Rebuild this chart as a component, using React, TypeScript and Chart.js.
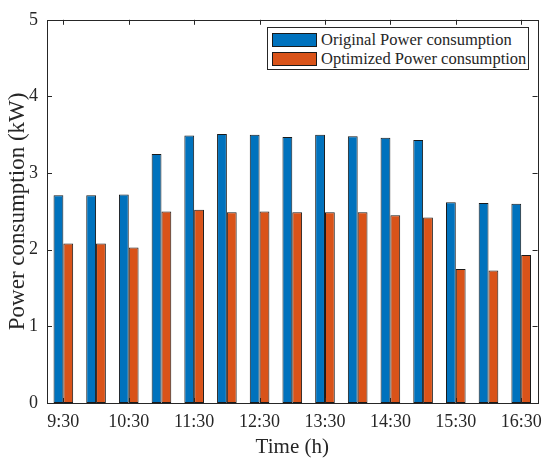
import React, { useEffect, useRef } from 'react';
import { Chart, registerables } from 'chart.js';

Chart.register(...registerables);

const times = ['9:30', '10:00', '10:30', '11:00', '11:30', '12:00', '12:30', '13:00', '13:30', '14:00', '14:30', '15:00', '15:30', '16:00', '16:30'];
const originalPower = [2.71, 2.71, 2.72, 3.25, 3.49, 3.51, 3.50, 3.47, 3.50, 3.48, 3.46, 3.43, 2.62, 2.61, 2.60];
const optimizedPower = [2.08, 2.08, 2.03, 2.50, 2.52, 2.49, 2.50, 2.49, 2.49, 2.49, 2.45, 2.42, 1.75, 1.73, 1.93];
const yTicks = [0, 1, 2, 3, 4, 5];

const BLUE = '#0072BD';
const ORANGE = '#D95319';
const AXIS = '#262626';
const FONT = "'Liberation Serif', 'Times New Roman', serif";

// matlab style box with ticks pointing inwards
const boxPlugin = {
    id: 'matlabBox',
    afterDraw(chart: Chart) {
        const { ctx, chartArea } = chart;
        const { left, right, top, bottom } = chartArea;
        const xs = chart.scales.x;
        const ys = chart.scales.y;
        const len = 5;
        ctx.save();
        ctx.strokeStyle = AXIS;
        ctx.lineWidth = 1;
        ctx.beginPath();
        yTicks.forEach((v) => {
            const py = Math.round(ys.getPixelForValue(v)) + 0.5;
            ctx.moveTo(left, py);
            ctx.lineTo(left + len, py);
            ctx.moveTo(right, py);
            ctx.lineTo(right - len, py);
        });
        times.forEach((_, i) => {
            if (i % 2 !== 0) return;
            const px = Math.round(xs.getPixelForValue(i)) + 0.5;
            ctx.moveTo(px, bottom);
            ctx.lineTo(px, bottom - len);
            ctx.moveTo(px, top);
            ctx.lineTo(px, top + len);
        });
        ctx.stroke();
        ctx.strokeRect(Math.round(left) + 0.5, Math.round(top) + 0.5, Math.round(right - left), Math.round(bottom - top));
        ctx.restore();
    }
};

const PowerChart = () => {
    const canvasRef = useRef<HTMLCanvasElement>(null);
    const chartInstance = useRef<Chart | null>(null);

    useEffect(() => {
        if (!canvasRef.current) return;
        const ctx = canvasRef.current.getContext('2d');
        if (!ctx) return;
        if (chartInstance.current) chartInstance.current.destroy();

        chartInstance.current = new Chart(ctx, {
            type: 'bar',
            data: {
                labels: times,
                datasets: [
                    {
                        label: 'Original Power consumption',
                        data: originalPower,
                        backgroundColor: BLUE,
                        borderColor: '#1a1a1a',
                        borderWidth: 1,
                        borderSkipped: false
                    },
                    {
                        label: 'Optimized Power consumption',
                        data: optimizedPower,
                        backgroundColor: ORANGE,
                        borderColor: '#1a1a1a',
                        borderWidth: 1,
                        borderSkipped: false
                    }
                ]
            },
            options: {
                responsive: false,
                animation: false,
                layout: { padding: { top: 14, right: 9, left: 0, bottom: 0 } },
                datasets: { bar: { categoryPercentage: 0.6, barPercentage: 1 } },
                plugins: {
                    legend: { display: false },
                    tooltip: { enabled: false }
                },
                scales: {
                    x: {
                        grid: { display: false, drawTicks: false },
                        border: { display: false },
                        afterFit: (scale) => { scale.height = 59; },
                        ticks: {
                            autoSkip: false,
                            maxRotation: 0,
                            padding: 8,
                            color: AXIS,
                            font: { family: FONT, size: 18 },
                            callback: function (value, index) {
                                return index % 2 === 0 ? times[index] : '';
                            }
                        },
                        title: {
                            display: true,
                            text: 'Time (h)',
                            color: AXIS,
                            font: { family: FONT, size: 21, lineHeight: 1.2 },
                            padding: { top: 0, bottom: 2 }
                        }
                    },
                    y: {
                        min: 0,
                        max: 5,
                        grid: { display: false, drawTicks: false },
                        border: { display: false },
                        afterFit: (scale) => { scale.width = 47; },
                        ticks: {
                            stepSize: 1,
                            padding: 9,
                            color: AXIS,
                            font: { family: FONT, size: 18 }
                        },
                        title: {
                            display: true,
                            text: 'Power consumption (kW)',
                            color: AXIS,
                            font: { family: FONT, size: 23, lineHeight: 1.2 },
                            padding: { top: 4, bottom: 0 }
                        }
                    }
                }
            },
            plugins: [boxPlugin]
        });

        return () => {
            if (chartInstance.current) {
                chartInstance.current.destroy();
                chartInstance.current = null;
            }
        };
    }, []);

    const swatch = (color: string): React.CSSProperties => ({
        width: 45,
        height: 14,
        background: color,
        border: '1px solid #1a1a1a',
        boxSizing: 'border-box',
        marginRight: 4,
        flex: 'none'
    });

    return (
        <div style={{ position: 'absolute', left: 0, top: 0, width: 550, height: 462, background: '#fff' }}>
            <canvas ref={canvasRef} width={550} height={462}></canvas>
            <div style={{
                position: 'absolute', left: 267, top: 27, width: 262, height: 43, boxSizing: 'border-box',
                border: `1px solid ${AXIS}`, background: '#fff', padding: '2px 4px',
                fontFamily: FONT, fontSize: 16.5, color: AXIS
            }}>
                <div style={{ display: 'flex', alignItems: 'center', height: 19, whiteSpace: 'nowrap' }}>
                    <div style={swatch(BLUE)}></div>Original Power consumption
                </div>
                <div style={{ display: 'flex', alignItems: 'center', height: 19, whiteSpace: 'nowrap' }}>
                    <div style={swatch(ORANGE)}></div>Optimized Power consumption
                </div>
            </div>
        </div>
    );
};

export default function App() {
    return <PowerChart />;
}
